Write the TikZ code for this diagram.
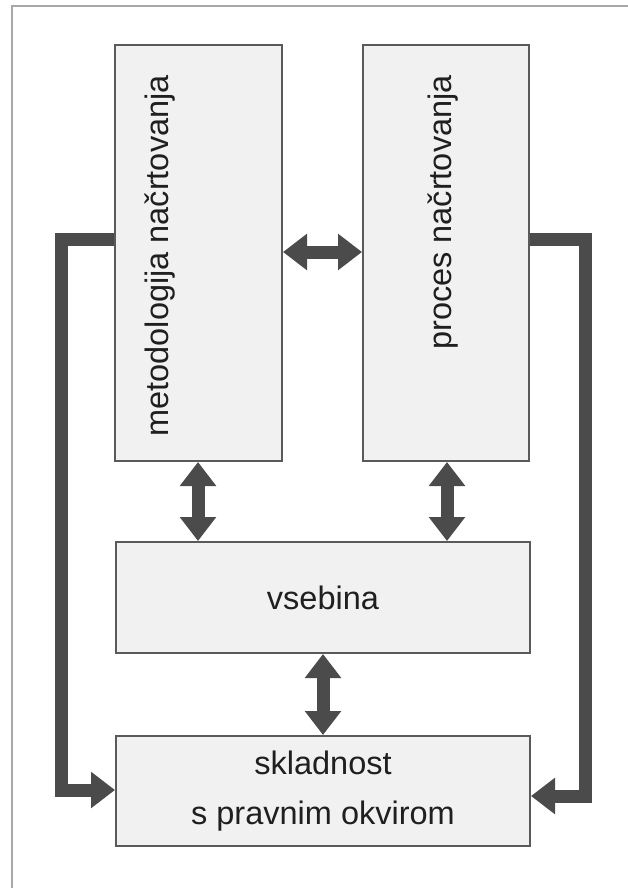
\documentclass[tikz,border=0pt]{standalone}
\usepackage{fontspec}
\setmainfont{Liberation Sans}
\usetikzlibrary{arrows.meta}
\definecolor{boxfill}{HTML}{F1F1F1}
\definecolor{boxline}{HTML}{5A5A5A}
\definecolor{arrowcol}{HTML}{4B4B4B}
\definecolor{framecol}{HTML}{A8A8A8}
\tikzset{
  blk/.style={draw=boxline, line width=2pt, fill=boxfill, rectangle, inner sep=0pt},
  lbl/.style={font=\fontsize{32.5}{50}\selectfont, text=black!88, inner sep=0pt, align=center},
  conn/.style={draw=arrowcol, line width=13pt, -{Triangle[length=24pt,width=35pt]}},
  dconn/.style={draw=arrowcol, line width=13pt, {Triangle[length=24pt,width=35pt]}-{Triangle[length=24pt,width=35pt]}}
}
\begin{document}
\begin{tikzpicture}[x=1pt,y=-1pt]
\useasboundingbox (0,0) rectangle (627,888);
% page frame
\draw[framecol, line width=2pt] (12,900) -- (12,6) -- (640,6);
% boxes
\node[blk, minimum width=167pt, minimum height=416pt] (m) at (198.5,253) {};
\node[blk, minimum width=166pt, minimum height=416pt] (p) at (446,253) {};
\node[blk, minimum width=414pt, minimum height=111pt] (v) at (323,597.5) {};
\node[blk, minimum width=414pt, minimum height=110pt] (s) at (323,791) {};
% labels
\node[lbl, rotate=90, anchor=east] (mt) at (160,75) {metodologija načrtovanja};
\node[lbl, rotate=90, anchor=east] (pt) at (443,75) {proces načrtovanja};
\node[lbl] (vt) at (v.center) {vsebina};
\node[lbl] (st) at (s.center) {skladnost\\s pravnim okvirom};
% double arrows
\draw[dconn] (m.east |- 0,252) -- (p.west |- 0,252);
\draw[dconn] (m.south -| 198,0) -- (v.north -| 198,0);
\draw[dconn] (p.south -| 447,0) -- (v.north -| 447,0);
\draw[dconn] (v.south -| 323,0) -- (s.north -| 323,0);
% side connectors
\coordinate (la) at (61,239);
\coordinate (lb) at (61,790);
\coordinate (ra) at (585,239);
\coordinate (rb) at (585,796);
\draw[conn] (m.west |- la) -- (la) -- (lb) -- (s.west |- lb);
\draw[conn] (p.east |- ra) -- (ra) -- (rb) -- (s.east |- rb);
\end{tikzpicture}
\end{document}
